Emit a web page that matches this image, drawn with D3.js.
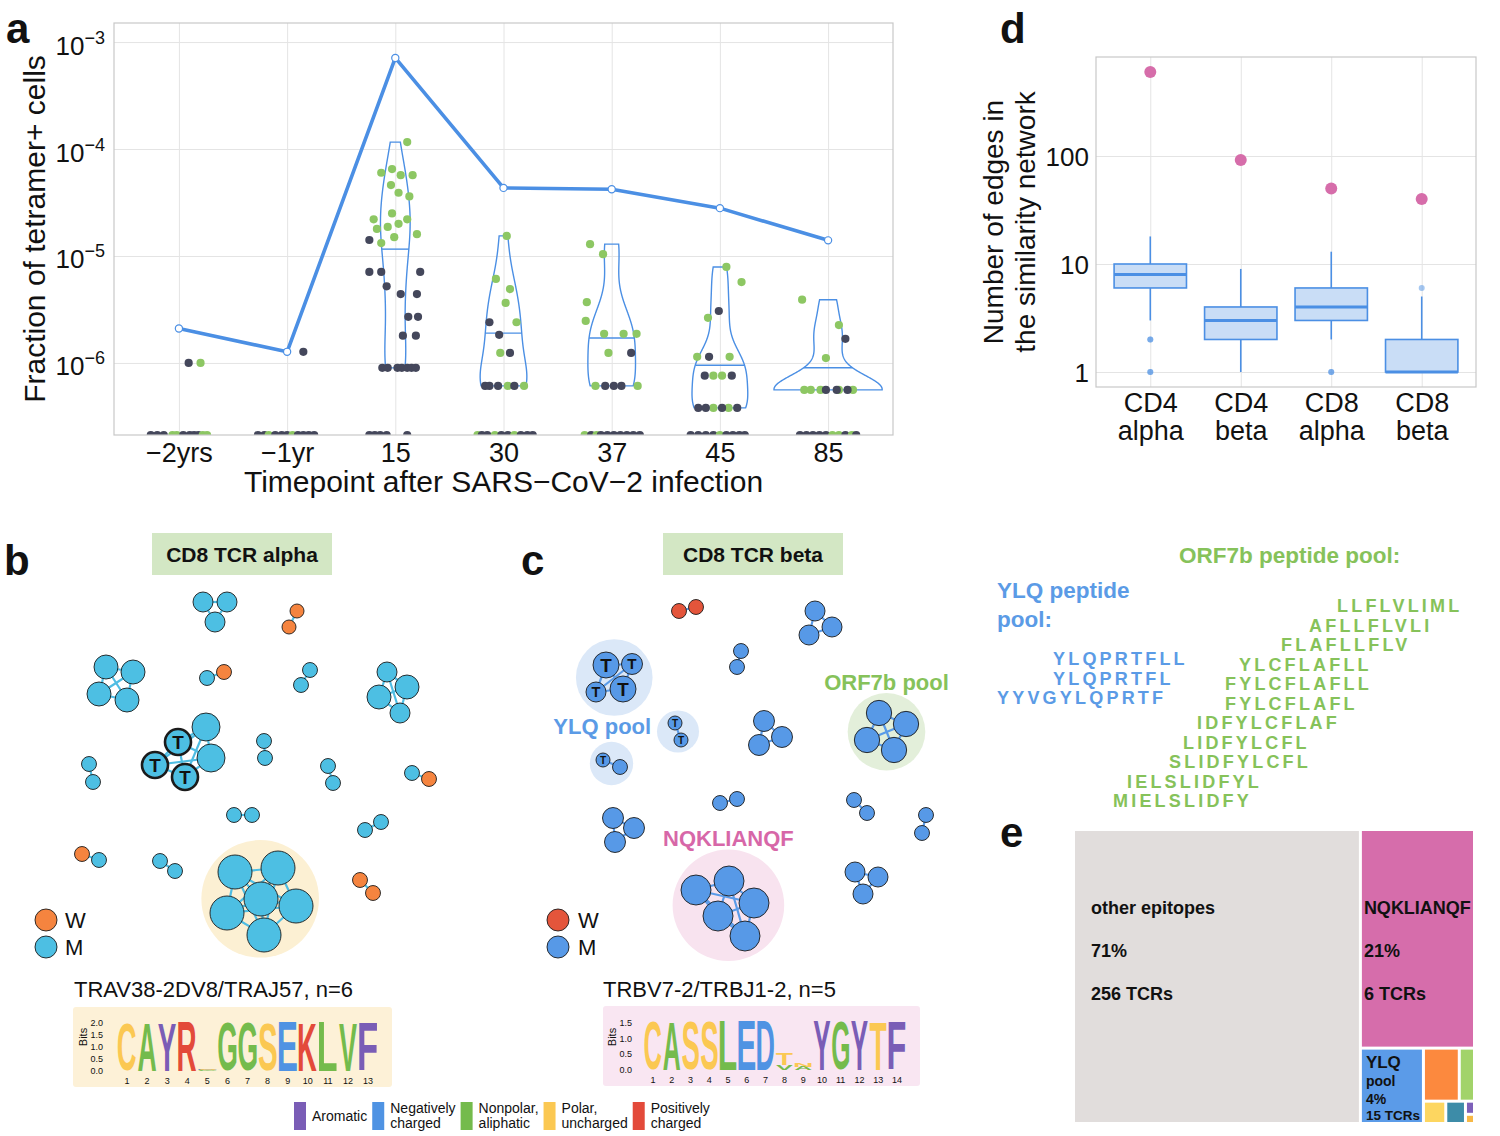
<!DOCTYPE html>
<html><head><meta charset="utf-8">
<script src="https://cdn.jsdelivr.net/npm/d3@7/dist/d3.min.js"></script>
<style>
html,body{margin:0;padding:0;background:#fff;}
svg text{font-family:'Liberation Sans',Arial,Helvetica,sans-serif;}
</style></head><body>
<svg id="fig" width="1500" height="1136" xmlns="http://www.w3.org/2000/svg"></svg>
<script>
// ===================== DATA =====================
// Panel a
const timepoints = ["\u22122yrs","\u22121yr","15","30","37","45","85"];
const tetramerLine = [2.1e-6,1.27e-6,7.1e-4,4.33e-5,4.2e-5,2.8e-5,1.4e-5];
const fractionTicks = [1e-6,1e-5,1e-4,1e-3];
// [timepoint index, fraction (0 = not detected), sample group (0 dark / 1 green), horizontal jitter in category units]
const cellDots = [
 [0,1.0e-6,0,0.09],[0,1.0e-6,1,0.2],
 [0,0,0,-0.26],[0,0,0,-0.2],[0,0,0,-0.14],[0,0,1,-0.06],[0,0,1,-0.02],[0,0,0,0.04],[0,0,0,0.1],[0,0,0,0.14],[0,0,0,0.18],[0,0,1,0.22],[0,0,1,0.26],
 [1,1.27e-6,0,0.15],
 [1,0,0,-0.27],[1,0,0,-0.21],[1,0,1,-0.17],[1,0,0,-0.11],[1,0,0,-0.05],[1,0,0,0],[1,0,1,0.05],[1,0,0,0.1],[1,0,0,0.15],[1,0,0,0.2],[1,0,0,0.25],
 [2,1.16e-4,1,0.11],[2,6.5e-5,1,-0.03],[2,6.0e-5,1,-0.13],[2,5.7e-5,1,0.05],[2,5.7e-5,1,0.16],[2,4.6e-5,1,-0.04],[2,3.9e-5,1,0.03],[2,3.6e-5,1,0.13],[2,2.5e-5,1,-0.03],[2,2.2e-5,1,-0.2],[2,2.0e-5,1,0.03],[2,2.2e-5,1,0.11],[2,1.79e-5,1,-0.17],[2,1.87e-5,1,-0.07],[2,1.5e-5,1,-0.01],[2,1.6e-5,1,0.2],[2,1.32e-5,1,-0.13],
 [2,1.41e-5,0,-0.24],[2,7.1e-6,0,-0.24],[2,7.1e-6,0,-0.13],[2,7.1e-6,0,0.23],[2,5.2e-6,0,-0.08],[2,4.4e-6,0,0.05],[2,4.4e-6,0,0.2],[2,2.7e-6,0,0.12],[2,2.7e-6,0,0.21],[2,1.8e-6,0,0.07],[2,1.8e-6,0,0.19],
 [2,9e-7,0,-0.12],[2,9e-7,0,-0.07],[2,9e-7,0,0.02],[2,9e-7,0,0.06],[2,9e-7,0,0.11],[2,9e-7,0,0.15],[2,9e-7,0,0.19],
 [2,0,0,-0.24],[2,0,0,-0.19],[2,0,0,-0.14],[2,0,0,-0.08],[2,0,0,0.11],
 [3,1.54e-5,1,0.03],[3,6.1e-6,1,-0.07],[3,4.9e-6,1,0.06],[3,3.64e-6,1,0.02],[3,2.4e-6,1,0.12],[3,1.24e-6,1,-0.03],[3,6.1e-7,1,0.04],[3,6.1e-7,1,0.19],
 [3,2.4e-6,0,-0.13],[3,1.83e-6,0,-0.04],[3,1.24e-6,0,0.06],[3,6.1e-7,0,-0.17],[3,6.1e-7,0,-0.13],[3,6.1e-7,0,-0.05],[3,6.1e-7,0,0.1],
 [3,0,1,-0.24],[3,0,0,-0.2],[3,0,0,-0.15],[3,0,1,-0.08],[3,0,0,-0.02],[3,0,0,0.04],[3,0,1,0.1],[3,0,0,0.16],[3,0,0,0.22],[3,0,0,0.27],
 [4,1.29e-5,1,-0.2],[4,1.04e-5,1,-0.08],[4,3.7e-6,1,-0.23],[4,2.47e-6,1,-0.24],[4,1.87e-6,1,-0.07],[4,1.87e-6,1,0.11],[4,1.87e-6,1,0.23],[4,1.24e-6,1,-0.03],[4,6.1e-7,1,-0.15],[4,6.1e-7,1,0.24],
 [4,1.24e-6,0,0.18],[4,6.1e-7,0,-0.06],[4,6.1e-7,0,0.02],[4,6.1e-7,0,0.09],
 [4,0,1,-0.25],[4,0,0,-0.19],[4,0,1,-0.14],[4,0,0,-0.1],[4,0,0,-0.04],[4,0,0,0.02],[4,0,0,0.08],[4,0,0,0.14],[4,0,0,0.2],[4,0,0,0.26],
 [5,7.9e-6,1,0.06],[5,5.7e-6,1,0.2],[5,2.64e-6,1,-0.11],[5,1.14e-6,1,-0.21],[5,1.14e-6,1,0.09],[5,7.6e-7,1,-0.06],[5,7.6e-7,1,0.02],[5,3.8e-7,1,-0.06],[5,3.8e-7,1,0.08],
 [5,3.06e-6,0,-0.01],[5,1.14e-6,0,-0.1],[5,7.6e-7,0,-0.14],[5,7.6e-7,0,0.11],[5,3.8e-7,0,-0.2],[5,3.8e-7,0,-0.13],[5,3.8e-7,0,0.02],[5,3.8e-7,0,0.16],
 [5,0,0,-0.27],[5,0,0,-0.2],[5,0,0,-0.13],[5,0,0,-0.06],[5,0,1,0],[5,0,0,0.06],[5,0,0,0.12],[5,0,0,0.18],[5,0,0,0.23],
 [6,3.9e-6,1,-0.24],[6,2.26e-6,1,0.1],[6,1.11e-6,1,-0.02],[6,5.6e-7,1,-0.22],[6,5.6e-7,1,-0.16],[6,5.6e-7,1,-0.07],[6,5.6e-7,1,0.1],[6,5.6e-7,1,0.23],
 [6,1.68e-6,0,0.16],[6,5.6e-7,0,-0.02],[6,5.6e-7,0,0.08],[6,5.6e-7,0,0.18],
 [6,0,0,-0.26],[6,0,0,-0.2],[6,0,0,-0.14],[6,0,0,-0.08],[6,0,0,-0.02],[6,0,1,0.04],[6,0,1,0.1],[6,0,0,0.16],[6,0,1,0.22],[6,0,0,0.26]
];

// Panel d
const cellTypes = ["CD4","CD4","CD8","CD8"];
const chains = ["alpha","beta","alpha","beta"];
const whiskerLow = [3,1,2,1];
const boxQ1 = [6,2,3,1];
const boxMedian = [8,3,4,1];
const boxQ3 = [10,4,6,2];
const whiskerHigh = [18,9,13,5];
const boxOutliers = [[2,2,1,1],[],[1,1],[6]];
const epitopeEdgeCounts = [600,92,50,40];
const edgeTicks = [1,10,100];

// Panels b, c: [cluster, layout x, layout y, clone size, sample (W/M), tetramer+]
const netAlphaNodes = [
 [1,143,22,100,"M",0],[1,167,22,100,"M",0],[1,155,42,100,"M",0],
 [2,237,31,49,"W",0],[2,229,47,49,"W",0],
 [3,46,87,144,"M",0],[3,73,92,144,"M",0],[3,39,114,144,"M",0],[3,67,120,144,"M",0],
 [4,147,98,56,"M",0],[4,164,92,56,"W",0],
 [5,250,90,56,"M",0],[5,241,105,56,"M",0],
 [6,327,92,100,"M",0],[6,347,107,144,"M",0],[6,319,117,144,"M",0],[6,340,133,100,"M",0],
 [7,146,147,196,"M",0],[7,151,178,196,"M",0],[7,118,162,169,"M",1],[7,95,185,169,"M",1],[7,125,197,169,"M",1],
 [8,204,161,56,"M",0],[8,205,178,56,"M",0],
 [9,29,184,56,"M",0],[9,33,202,56,"M",0],
 [10,268,186,56,"M",0],[10,273,203,56,"M",0],
 [11,352,193,56,"M",0],[11,369,199,56,"W",0],
 [12,174,235,56,"M",0],[12,192,235,56,"M",0],
 [13,305,250,56,"M",0],[13,321,242,56,"M",0],
 [14,22,274,56,"W",0],[14,39,280,56,"M",0],
 [15,100,281,56,"M",0],[15,115,291,56,"M",0],
 [16,175,292,289,"M",0],[16,218,288,289,"M",0],[16,201,319,289,"M",0],[16,167,333,289,"M",0],[16,236,326,289,"M",0],[16,204,355,289,"M",0],
 [17,300,300,56,"W",0],[17,313,313,56,"W",0]
];
const netAlphaHighlights = [[16,"motif"]];
const netBetaNodes = [
 [1,139,31,56,"W",0],[1,156,27,56,"W",0],
 [2,275,31,100,"M",0],[2,292,47,100,"M",0],[2,269,55,100,"M",0],
 [3,201,71,56,"M",0],[3,197,87,56,"M",0],
 [4,66,85,169,"M",1],[4,92,84,110,"M",1],[4,56,112,100,"M",1],[4,83,109,169,"M",1],
 [5,135,143,49,"M",1],[5,141,160,49,"M",1],
 [6,63,180,49,"M",1],[6,80,187,56,"M",0],
 [7,224,141,110,"M",0],[7,242,157,110,"M",0],[7,219,165,110,"M",0],
 [8,339,133,160,"M",0],[8,366,144,160,"M",0],[8,327,160,160,"M",0],[8,354,170,160,"M",0],
 [9,180,223,56,"M",0],[9,197,219,56,"M",0],
 [10,314,220,56,"M",0],[10,327,233,56,"M",0],
 [11,386,235,56,"M",0],[11,382,253,56,"M",0],
 [12,73,238,110,"M",0],[12,94,248,110,"M",0],[12,75,262,110,"M",0],
 [13,156,310,225,"M",0],[13,189,301,225,"M",0],[13,214,323,225,"M",0],[13,178,336,225,"M",0],[13,205,356,225,"M",0],
 [14,315,292,100,"M",0],[14,338,297,100,"M",0],[14,323,314,100,"M",0]
];
const netBetaHighlights = [[4,"YLQ pool"],[5,"YLQ pool"],[6,"YLQ pool"],[8,"ORF7b pool"],[13,"NQKLIANQF"]];

// Sequence logos
const logoAlphaLetters = [["C"],["A"],["Y"],["R"],["G","E","S"],["G"],["G"],["S"],["E"],["K"],["L"],["V"],["F"]];
const logoAlphaBits = [[2.0],[2.0],[1.98],[2.0],[0.03,0.03,0.03],[2.0],[2.0],[1.98],[2.0],[2.0],[2.0],[1.98],[2.0]];
const logoBetaLetters = [["C"],["A"],["S"],["S"],["L"],["E"],["D"],["V","T"],["A","N"],["Y"],["G"],["Y"],["T"],["F"]];
const logoBetaBits = [[1.55],[1.55],[1.55],[1.55],[1.55],[1.55],[1.55],[0.17,0.36],[0.1,0.12],[1.55],[1.55],[1.55],[1.55],[1.55]];
const aaClassNames = ["Aromatic","Negatively\ncharged","Nonpolar,\naliphatic","Polar,\nuncharged","Positively\ncharged"];
const aaClassMembers = ["FWY","DE","GAVLIMP","STCNQ","KRH"];

// Peptide pools
const ylqPeptides = ["YLQPRTFLL","YLQPRTFL","YYVGYLQPRTF"];
const ylqOffsets = [4,4,0];
const orf7bPeptides = ["LLFLVLIML","AFLLFLVLI","FLAFLLFLV","YLCFLAFLL","FYLCFLAFLL","FYLCFLAFL","IDFYLCFLAF","LIDFYLCFL","SLIDFYLCFL","IELSLIDFYL","MIELSLIDFY"];
const orf7bOffsets = [16,14,12,9,8,8,6,5,4,1,0];

// Panel e treemap
const epitopeNames = ["other epitopes","NQKLIANQF","YLQ pool","","","","","",""];
const epitopeShare = [71,21,4,1.6,0.68,0.42,0.37,0.1,0.07];
const epitopeTCRs = [256,6,15,null,null,null,null,null,null];

// ===================== STYLE =====================
const FONT = "'Liberation Sans', Arial, Helvetica, sans-serif";
const MONO = "'Liberation Mono', 'DejaVu Sans Mono', monospace";
const BLUE = "#4b8fe4", DARK = "#44475b", GREEN = "#8dc763", PINK = "#d66daa";
const aaColors = ["#7a5db6","#4f93e3","#74bb4c","#fbc852","#e34a3a"];
const epitopeColors = ["#e1dddc","#d66dab","#5b9be8","#fc893e","#a2d36a","#fdd660","#3d8ca8","#7d60b9","#f7b845"];

const svg = d3.select("#fig");
const defs = svg.append("defs");
function txt(g,x,y,s,size,o={}){
  const t=g.append("text").attr("x",x).attr("y",y).text(s).attr("font-size",size).attr("fill",o.fill||"#111");
  if(o.bold) t.attr("font-weight","bold");
  if(o.anchor) t.attr("text-anchor",o.anchor);
  if(o.family) t.attr("font-family",o.family);
  if(o.transform) t.attr("transform",o.transform);
  if(o.ls) t.attr("letter-spacing",o.ls);
  return t;
}
// panel letters
txt(svg,6,43,"a",42,{bold:true});
txt(svg,4,575,"b",42,{bold:true});
txt(svg,521,575,"c",42,{bold:true});
txt(svg,1000,43,"d",42,{bold:true});
txt(svg,1000,847,"e",42,{bold:true});

// ===================== PANEL A =====================
const PA={l:114,r:893,t:23,b:435};
const ax=d3.scalePoint().domain(d3.range(timepoints.length)).range([PA.l,PA.r]).padding(0.6);
const ay=d3.scaleLog().domain([2.12e-7,1.507e-3]).range([PA.b,PA.t]);
const gA=svg.append("g");
const xAxA=gA.append("g").attr("transform",`translate(0,${PA.b})`)
  .call(d3.axisBottom(ax).tickSize(-(PA.b-PA.t)).tickPadding(8).tickFormat(i=>timepoints[i]));
xAxA.attr("font-family",FONT).attr("font-size",27);
xAxA.select(".domain").remove();
xAxA.selectAll(".tick line").attr("stroke","#e4e4e4");
xAxA.selectAll(".tick text").attr("fill","#111");
const yAxA=gA.append("g").attr("transform",`translate(${PA.l},0)`)
  .call(d3.axisLeft(ay).tickValues(fractionTicks).tickSize(-(PA.r-PA.l)).tickFormat(""));
yAxA.select(".domain").remove();
yAxA.selectAll(".tick line").attr("stroke","#e4e4e4");
yAxA.selectAll(".tick").each(function(v){
  const t=d3.select(this).append("text").attr("x",-9).attr("y",12).attr("text-anchor","end").attr("fill","#111").attr("font-family",FONT);
  t.append("tspan").attr("font-size",26).text("10");
  t.append("tspan").attr("font-size",18).attr("dy",-11).text("\u2212"+Math.abs(Math.round(Math.log10(v))));
});
txt(gA,(PA.l+PA.r)/2,492,"Timepoint after SARS\u2212CoV\u22122 infection",30,{anchor:"middle"});
txt(gA,0,0,"Fraction of tetramer+ cells",30,{anchor:"middle",transform:`translate(45,${(PA.t+PA.b)/2}) rotate(-90)`});

defs.append("clipPath").attr("id","clipA").append("rect").attr("x",PA.l).attr("y",PA.t).attr("width",PA.r-PA.l).attr("height",PA.b-PA.t);
const plotA=gA.append("g").attr("clip-path","url(#clipA)");

// violins (gaussian KDE in log10 space, trimmed, equal area scaling)
function bwNrd0(x){
  const s=d3.deviation(x); const srt=x.slice().sort(d3.ascending);
  const iqr=d3.quantileSorted(srt,0.75)-d3.quantileSorted(srt,0.25);
  let lo=Math.min(s,iqr/1.34); if(!(lo>0)) lo=s;
  return 0.9*lo*Math.pow(x.length,-0.2);
}
const violins=[];
timepoints.forEach((t,i)=>{
  const lv=cellDots.filter(d=>d[0]===i&&d[1]>0).map(d=>Math.log10(d[1]));
  if(lv.length<3||!(d3.deviation(lv)>0)) return;
  const bw=bwNrd0(lv), lo=d3.min(lv), hi=d3.max(lv), n=256;
  const grid=d3.range(n).map(k=>lo+(hi-lo)*k/(n-1));
  const dens=grid.map(y=>d3.mean(lv,v=>Math.exp(-0.5*((y-v)/bw)**2))/(bw*Math.sqrt(2*Math.PI)));
  const cum=[0]; for(let k=1;k<n;k++) cum.push(cum[k-1]+(dens[k]+dens[k-1])/2*(grid[k]-grid[k-1]));
  const tot=cum[n-1]; let med=grid[0];
  for(let k=1;k<n;k++){ if(cum[k]>=tot/2){ const f=(tot/2-cum[k-1])/(cum[k]-cum[k-1]); med=grid[k-1]+f*(grid[k]-grid[k-1]); break; } }
  violins.push({i,pts:grid.map((g,k)=>[g,dens[k]]),med,dens});
});
const maxDens=d3.max(violins,v=>d3.max(v.dens));
const halfW=0.5*ax.step();
violins.forEach(v=>{
  const cx=ax(v.i);
  const area=d3.area().y(d=>ay(Math.pow(10,d[0]))).x0(d=>cx-d[1]/maxDens*halfW).x1(d=>cx+d[1]/maxDens*halfW);
  plotA.append("path").attr("d",area(v.pts)).attr("fill","none").attr("stroke",BLUE).attr("stroke-width",1.4);
  let k=v.pts.findIndex(p=>p[0]>=v.med); if(k<0)k=v.pts.length-1;
  const w=v.pts[k][1]/maxDens*halfW;
  plotA.append("line").attr("x1",cx-w).attr("x2",cx+w).attr("y1",ay(Math.pow(10,v.med))).attr("y2",ay(Math.pow(10,v.med))).attr("stroke",BLUE).attr("stroke-width",1.4);
});
// dots
plotA.selectAll("circle.dot").data(cellDots).join("circle").attr("class","dot")
  .attr("cx",d=>ax(d[0])+d[3]*ax.step())
  .attr("cy",d=>d[1]>0?ay(d[1]):PA.b)
  .attr("r",4.1).attr("fill",d=>d[2]?GREEN:DARK);
// line
gA.append("path").datum(tetramerLine).attr("d",d3.line().x((d,i)=>ax(i)).y(d=>ay(d)))
  .attr("fill","none").attr("stroke",BLUE).attr("stroke-width",3.6).attr("stroke-linejoin","round");
gA.selectAll("circle.lp").data(tetramerLine).join("circle").attr("class","lp")
  .attr("cx",(d,i)=>ax(i)).attr("cy",d=>ay(d)).attr("r",3.6).attr("fill","#fff").attr("stroke",BLUE).attr("stroke-width",1.2);
gA.append("rect").attr("x",PA.l).attr("y",PA.t).attr("width",PA.r-PA.l).attr("height",PA.b-PA.t).attr("fill","none").attr("stroke","#c8c8c8").attr("stroke-width",1.2);

// ===================== PANEL D =====================
const PD={l:1096,r:1476,t:57,b:387};
const dxs=d3.scalePoint().domain(d3.range(cellTypes.length)).range([PD.l,PD.r]).padding(0.6);
const dys=d3.scaleLog().domain([0.726,826]).range([PD.b,PD.t]);
const gD=svg.append("g");
const xAxD=gD.append("g").attr("transform",`translate(0,${PD.b})`).call(d3.axisBottom(dxs).tickSize(-(PD.b-PD.t)).tickFormat(""));
xAxD.select(".domain").remove(); xAxD.selectAll(".tick line").attr("stroke","#e4e4e4");
xAxD.selectAll(".tick").each(function(i){
  const g=d3.select(this);
  g.append("text").attr("y",25).attr("text-anchor","middle").attr("font-size",27).attr("fill","#111").attr("font-family",FONT).text(cellTypes[i]);
  g.append("text").attr("y",53).attr("text-anchor","middle").attr("font-size",27).attr("fill","#111").attr("font-family",FONT).text(chains[i]);
});
const yAxD=gD.append("g").attr("transform",`translate(${PD.l},0)`).call(d3.axisLeft(dys).tickValues(edgeTicks).tickSize(-(PD.r-PD.l)).tickPadding(7).tickFormat(d3.format("d")));
yAxD.attr("font-family",FONT).attr("font-size",26);
yAxD.select(".domain").remove(); yAxD.selectAll(".tick line").attr("stroke","#e4e4e4");
yAxD.selectAll(".tick text").attr("fill","#111").attr("dy","0.38em");
const dTitle=gD.append("g").attr("transform",`translate(1003,${(PD.t+PD.b)/2}) rotate(-90)`);
dTitle.append("text").attr("text-anchor","middle").attr("font-size",28).attr("fill","#111").text("Number of edges in");
dTitle.append("text").attr("text-anchor","middle").attr("y",32).attr("font-size",28).attr("fill","#111").text("the similarity network");
const bw=0.8*dxs.step();
cellTypes.forEach((c,i)=>{
  const cx=dxs(i);
  gD.append("line").attr("x1",cx).attr("x2",cx).attr("y1",dys(whiskerLow[i])).attr("y2",dys(boxQ1[i])).attr("stroke",BLUE).attr("stroke-width",1.6);
  gD.append("line").attr("x1",cx).attr("x2",cx).attr("y1",dys(boxQ3[i])).attr("y2",dys(whiskerHigh[i])).attr("stroke",BLUE).attr("stroke-width",1.6);
  gD.append("rect").attr("x",cx-bw/2).attr("width",bw).attr("y",dys(boxQ3[i])).attr("height",dys(boxQ1[i])-dys(boxQ3[i]))
    .attr("fill","#c9ddf6").attr("stroke",BLUE).attr("stroke-width",1.6);
  gD.append("line").attr("x1",cx-bw/2).attr("x2",cx+bw/2).attr("y1",dys(boxMedian[i])).attr("y2",dys(boxMedian[i])).attr("stroke",BLUE).attr("stroke-width",3);
  gD.selectAll(null).data(boxOutliers[i]).join("circle").attr("cx",cx).attr("cy",d=>dys(d)).attr("r",3).attr("fill",BLUE).attr("fill-opacity",0.5);
});
gD.selectAll("circle.pk").data(epitopeEdgeCounts).join("circle").attr("class","pk")
  .attr("cx",(d,i)=>dxs(i)).attr("cy",d=>dys(d)).attr("r",6).attr("fill",PINK);
gD.append("rect").attr("x",PD.l).attr("y",PD.t).attr("width",PD.r-PD.l).attr("height",PD.b-PD.t).attr("fill","none").attr("stroke","#c8c8c8").attr("stroke-width",1.2);

// ===================== PANELS B, C (networks) =====================
const highlightFill={"motif":"#fcf0d3","YLQ pool":"#dbe8f8","ORF7b pool":"#e3efda","NQKLIANQF":"#f8e3ef"};
const highlightText={"YLQ pool":"#5b9be6","ORF7b pool":"#86c25a","NQKLIANQF":"#d767a8"};
function drawNetwork(nodes,highlights,ox,oy,pal,edgeColor,tStroke){
  const g=svg.append("g");
  const nx=d3.scaleLinear().domain([0,400]).range([ox,ox+400]);
  const ny=d3.scaleLinear().domain([0,400]).range([oy,oy+400]);
  const nr=d3.scaleSqrt().domain([0,289]).range([0,17]);
  const byC=d3.group(nodes,d=>d[0]);
  const labelled=new Set();
  highlights.forEach(([cid,name])=>{
    const ns=byC.get(cid);
    const cx=d3.mean(ns,d=>nx(d[1])), cy=d3.mean(ns,d=>ny(d[2]));
    const R=d3.max(ns,d=>Math.hypot(nx(d[1])-cx,ny(d[2])-cy)+nr(d[3]))+5;
    g.append("circle").attr("cx",cx).attr("cy",cy).attr("r",R).attr("fill",highlightFill[name]);
    if(highlightText[name]&&!labelled.has(name)){
      labelled.add(name);
      const below=name.startsWith("YLQ");
      txt(g,below?cx-12:cx,below?cy+R+18:cy-R-3,name,22,{bold:true,anchor:"middle",fill:highlightText[name]});
    }
  });
  const edges=[];
  byC.forEach(ns=>{for(let i=0;i<ns.length;i++)for(let j=i+1;j<ns.length;j++)edges.push([ns[i],ns[j]]);});
  g.selectAll("line.e").data(edges).join("line").attr("class","e")
    .attr("x1",d=>nx(d[0][1])).attr("y1",d=>ny(d[0][2])).attr("x2",d=>nx(d[1][1])).attr("y2",d=>ny(d[1][2]))
    .attr("stroke",edgeColor).attr("stroke-width",2.2);
  g.selectAll("circle.n").data(nodes).join("circle").attr("class","n")
    .attr("cx",d=>nx(d[1])).attr("cy",d=>ny(d[2])).attr("r",d=>nr(d[3]))
    .attr("fill",d=>pal[d[4]]).attr("stroke","#1b1b1b").attr("stroke-width",d=>d[5]?tStroke:0.9);
  g.selectAll("text.t").data(nodes.filter(d=>d[5])).join("text").attr("class","t")
    .attr("x",d=>nx(d[1])).attr("y",d=>ny(d[2])).attr("dy","0.36em").attr("text-anchor","middle")
    .attr("font-weight","bold").attr("font-size",d=>nr(d[3])*1.45).attr("fill","#111").text("T");
  return g;
}
const palAlpha={W:"#f5843f",M:"#4dbfe3"}, palBeta={W:"#e4553b",M:"#5799e7"};
drawNetwork(netAlphaNodes,netAlphaHighlights,60,580,palAlpha,"#4fbde3",2.6);
drawNetwork(netBetaNodes,netBetaHighlights,540,580,palBeta,"#5a9be8",0.9);
// title boxes
[[152,"CD8 TCR alpha"],[663,"CD8 TCR beta"]].forEach(([x,s])=>{
  svg.append("rect").attr("x",x).attr("y",533).attr("width",180).attr("height",42).attr("fill","#d3e7c4");
  txt(svg,x+90,562,s,21,{bold:true,anchor:"middle"});
});
// W/M legends
[[46,65,palAlpha],[558,578,palBeta]].forEach(([cx,tx,pal])=>{
  ["W","M"].forEach((k,i)=>{
    svg.append("circle").attr("cx",cx).attr("cy",920+i*27).attr("r",11).attr("fill",pal[k]).attr("stroke","#1b1b1b").attr("stroke-width",0.9);
    txt(svg,tx,928+i*27,k,22);
  });
});
txt(svg,74,997,"TRAV38-2DV8/TRAJ57, n=6",22);
txt(svg,603,997,"TRBV7-2/TRBJ1-2, n=5",22);

// ===================== SEQUENCE LOGOS =====================
const cctx=document.createElement("canvas").getContext("2d");
function aaColor(ch){ const k=aaClassMembers.findIndex(s=>s.includes(ch)); return aaColors[k<0?2:k]; }
function drawLetter(g,ch,x0,x1,yTop,yBot,color){
  if(yBot-yTop<=0) return;
  cctx.font="bold 100px 'Liberation Sans'";
  const m=cctx.measureText(ch);
  const L=m.actualBoundingBoxLeft,R=m.actualBoundingBoxRight,A=m.actualBoundingBoxAscent,D=m.actualBoundingBoxDescent;
  const sx=(x1-x0)/(L+R), sy=(yBot-yTop)/(A+D);
  g.append("text").text(ch).attr("font-size",100).attr("font-weight","bold").attr("fill",color)
   .attr("transform",`translate(${x0+L*sx},${yBot-D*sy}) scale(${sx},${sy})`);
}
function drawLogo(letters,bits,cfg){
  const g=svg.append("g");
  g.append("rect").attr("x",cfg.bx).attr("y",cfg.by).attr("width",cfg.bw).attr("height",80).attr("rx",3).attr("fill",cfg.bg);
  const lx=d3.scaleLinear().domain([1,letters.length]).range(cfg.xr);
  const ly=d3.scaleLinear().domain([0,cfg.maxBits]).range(cfg.yr);
  const step=lx(2)-lx(1), w=step*0.9;
  letters.forEach((col,i)=>{
    let acc=0;
    col.forEach((ch,k)=>{
      const b=bits[i][k];
      drawLetter(g,ch,lx(i+1)-w/2,lx(i+1)+w/2,ly(acc+b),ly(acc),aaColor(ch));
      acc+=b;
    });
    txt(g,lx(i+1),cfg.numY,String(i+1),9,{anchor:"middle"});
  });
  cfg.ticks.forEach(t=>txt(g,cfg.tickX,ly(t)+3,t.toFixed(1),9,{anchor:"end"}));
  txt(g,0,0,"Bits",11,{anchor:"middle",transform:`translate(${cfg.bitsX},1037) rotate(-90)`});
}
drawLogo(logoAlphaLetters,logoAlphaBits,{bx:73,by:1007,bw:319,bg:"#fdf1d7",xr:[127,368],yr:[1071,1023],maxBits:2,ticks:[0,0.5,1,1.5,2],tickX:103,numY:1084,bitsX:87});
drawLogo(logoBetaLetters,logoBetaBits,{bx:603,by:1006,bw:317,bg:"#f9e6f2",xr:[653,897],yr:[1070,1023],maxBits:1.5,ticks:[0,0.5,1,1.5],tickX:632,numY:1083,bitsX:616});
// amino acid class legend
(function(){
  const g=svg.append("g"); let x=294;
  aaClassNames.forEach((name,i)=>{
    g.append("rect").attr("x",x).attr("y",1102).attr("width",12).attr("height",28).attr("fill",aaColors[i]);
    const lines=name.split("\n"); let maxW=0;
    lines.forEach((ln,j)=>{
      const y=lines.length===1?1121:1113+j*15;
      const t=txt(g,x+18,y,ln,14);
      maxW=Math.max(maxW,t.node().getComputedTextLength());
    });
    x+=18+maxW+5;
  });
})();

// ===================== PEPTIDE POOLS =====================
txt(svg,1179,563,"ORF7b peptide pool:",22.5,{bold:true,fill:"#86c25a"});
txt(svg,997,598,"YLQ peptide",22.5,{bold:true,fill:"#5b9be6"});
txt(svg,997,627,"pool:",22.5,{bold:true,fill:"#5b9be6"});
const PEP_SIZE=18, PEP_LS=3.2;
cctx.font=`bold ${PEP_SIZE}px 'Liberation Mono'`;
const charW=cctx.measureText("M").width+PEP_LS;
const ylqX=d3.scaleLinear().domain([0,1]).range([997,997+charW]);
const orfX=d3.scaleLinear().domain([0,1]).range([1113,1113+charW]);
ylqPeptides.forEach((p,i)=>txt(svg,ylqX(ylqOffsets[i]),665+i*19.5,p,PEP_SIZE,{bold:true,family:MONO,fill:"#5b9be6",ls:PEP_LS}));
orf7bPeptides.forEach((p,i)=>txt(svg,orfX(orf7bOffsets[i]),612+i*19.5,p,PEP_SIZE,{bold:true,family:MONO,fill:"#86c25a",ls:PEP_LS}));

// ===================== PANEL E (treemap) =====================
const leaf=i=>({i,value:epitopeShare[i]});
const tmRoot=d3.hierarchy({children:[leaf(0),{children:[leaf(1),{children:[leaf(2),{children:[
  {children:[leaf(3),leaf(4)]},{children:[leaf(5),leaf(6),{children:[leaf(7),leaf(8)]}]}]}]}]}]})
  .sum(d=>d.value||0);
d3.treemap().tile(d3.treemapSliceDice).size([398,291]).paddingInner(3)(tmRoot);
const gE=svg.append("g").attr("transform","translate(1075,831)");
gE.selectAll("rect").data(tmRoot.leaves()).join("rect")
  .attr("x",d=>d.x0).attr("y",d=>d.y0).attr("width",d=>d.x1-d.x0).attr("height",d=>d.y1-d.y0)
  .attr("fill",d=>epitopeColors[d.data.i]);
tmRoot.leaves().forEach(d=>{
  const i=d.data.i;
  if(i===0||i===1){
    const x=d.x0+(i===0?16:2);
    txt(gE,x,d.y0+83,epitopeNames[i],18,{bold:true});
    txt(gE,x,d.y0+126,Math.round(epitopeShare[i])+"%",18,{bold:true});
    txt(gE,x,d.y0+169,epitopeTCRs[i]+" TCRs",18,{bold:true});
  } else if(i===2){
    const x=d.x0+4, parts=epitopeNames[i].split(" ");
    txt(gE,x,d.y0+18,parts[0],17,{bold:true});
    txt(gE,x,d.y0+36,parts[1],14,{bold:true});
    txt(gE,x,d.y0+54,Math.round(epitopeShare[i])+"%",14,{bold:true});
    txt(gE,x,d.y0+70,epitopeTCRs[i]+" TCRs",13.5,{bold:true});
  }
});
</script></body></html>
